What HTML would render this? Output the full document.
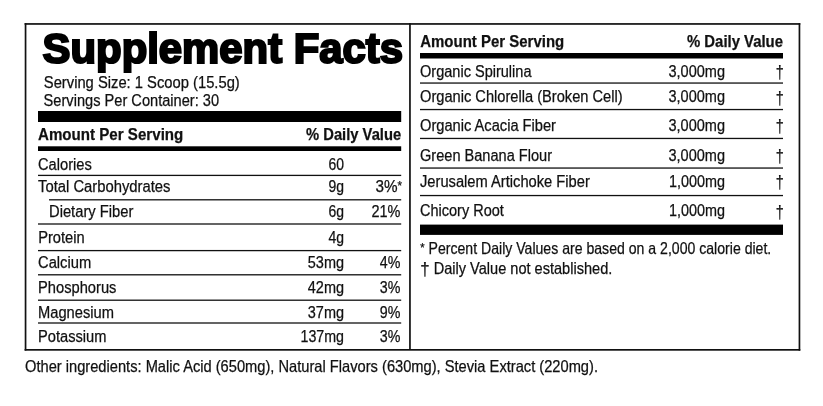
<!DOCTYPE html>
<html lang="en"><head><meta charset="utf-8"><title>Supplement Facts</title>
<style>html,body{margin:0;padding:0;background:#fff}svg{display:block}text{font-family:"Liberation Sans",Arial,Helvetica,sans-serif;fill:#111;stroke:#111;stroke-width:.25px}</style></head><body>
<svg width="823" height="406" viewBox="0 0 823 406">
<rect x="0" y="0" width="823" height="406" fill="#fff"/>
<rect x="24.6" y="23.1" width="775.7" height="1.7" fill="#111"/>
<rect x="24.6" y="349" width="775.7" height="1.7" fill="#111"/>
<rect x="24.7" y="23.1" width="1.7" height="327.5" fill="#111"/>
<rect x="798.6" y="23.1" width="1.7" height="327.6" fill="#111"/>
<rect x="409.1" y="23.1" width="1.7" height="326.5" fill="#111"/>
<rect x="38" y="111" width="363.2" height="11" fill="#000"/>
<rect x="38" y="146.3" width="363.2" height="4.7" fill="#000"/>
<rect x="38" y="174.75" width="363.2" height="1.3" fill="#111"/>
<rect x="49" y="199.15" width="352.2" height="1.3" fill="#111"/>
<rect x="38" y="223.35" width="363.2" height="1.3" fill="#111"/>
<rect x="38" y="249.95" width="363.2" height="1.3" fill="#111"/>
<rect x="38" y="274.15000000000003" width="363.2" height="1.3" fill="#111"/>
<rect x="38" y="299.55" width="363.2" height="1.3" fill="#111"/>
<rect x="38" y="322.35" width="363.2" height="1.3" fill="#111"/>
<rect x="420" y="53" width="363" height="5.5" fill="#000"/>
<rect x="420" y="82.4" width="363" height="1.3" fill="#111"/>
<rect x="420" y="108.9" width="363" height="1.3" fill="#111"/>
<rect x="420" y="137.8" width="363" height="1.3" fill="#111"/>
<rect x="420" y="167.4" width="363" height="1.3" fill="#111"/>
<rect x="420" y="194.9" width="363" height="1.3" fill="#111"/>
<rect x="420" y="224.6" width="363" height="10.3" fill="#000"/>
<text x="42.6" textLength="360.5" lengthAdjust="spacingAndGlyphs" font-weight="bold" style="stroke:#000;stroke-width:2.2px;stroke-linejoin:miter;fill:#000" y="62.6" font-size="42">Supplement Facts</text>
<text x="43.8" textLength="196" lengthAdjust="spacingAndGlyphs" y="87.5" font-size="16.3">Serving Size: 1 Scoop (15.5g)</text>
<text x="43.6" textLength="175.5" lengthAdjust="spacingAndGlyphs" y="105.6" font-size="16.3">Servings Per Container: 30</text>
<text x="38" textLength="145.3" lengthAdjust="spacingAndGlyphs" font-weight="bold" y="140" font-size="17">Amount Per Serving</text>
<text x="401.2" text-anchor="end" textLength="95.2" lengthAdjust="spacingAndGlyphs" font-weight="bold" y="140" font-size="17">% Daily Value</text>
<text x="38" textLength="53.8" lengthAdjust="spacingAndGlyphs" y="169.6" font-size="16">Calories</text>
<text x="344" text-anchor="end" textLength="15.5" lengthAdjust="spacingAndGlyphs" y="169.6" font-size="16">60</text>
<text x="38" textLength="132.5" lengthAdjust="spacingAndGlyphs" y="191.9" font-size="16">Total Carbohydrates</text>
<text x="344" text-anchor="end" textLength="15.5" lengthAdjust="spacingAndGlyphs" y="191.9" font-size="16">9g</text>
<text x="402" text-anchor="end" textLength="26.5" lengthAdjust="spacingAndGlyphs" y="191.9" font-size="16">3%<tspan font-size="12" dy="-1.5">*</tspan></text>
<text x="49" textLength="84.3" lengthAdjust="spacingAndGlyphs" y="217" font-size="16">Dietary Fiber</text>
<text x="344" text-anchor="end" textLength="15.5" lengthAdjust="spacingAndGlyphs" y="217" font-size="16">6g</text>
<text x="400.4" text-anchor="end" textLength="29" lengthAdjust="spacingAndGlyphs" y="217" font-size="16">21%</text>
<text x="38.2" textLength="46.5" lengthAdjust="spacingAndGlyphs" y="242.9" font-size="16">Protein</text>
<text x="344" text-anchor="end" textLength="15.5" lengthAdjust="spacingAndGlyphs" y="242.9" font-size="16">4g</text>
<text x="38" textLength="53.2" lengthAdjust="spacingAndGlyphs" y="267.8" font-size="16">Calcium</text>
<text x="344" text-anchor="end" textLength="36.2" lengthAdjust="spacingAndGlyphs" y="267.8" font-size="16">53mg</text>
<text x="400.4" text-anchor="end" textLength="20.6" lengthAdjust="spacingAndGlyphs" y="267.8" font-size="16">4%</text>
<text x="38" textLength="78.4" lengthAdjust="spacingAndGlyphs" y="292.9" font-size="16">Phosphorus</text>
<text x="344" text-anchor="end" textLength="36.2" lengthAdjust="spacingAndGlyphs" y="292.9" font-size="16">42mg</text>
<text x="400.4" text-anchor="end" textLength="20.6" lengthAdjust="spacingAndGlyphs" y="292.9" font-size="16">3%</text>
<text x="38" textLength="75.9" lengthAdjust="spacingAndGlyphs" y="317.5" font-size="16">Magnesium</text>
<text x="344" text-anchor="end" textLength="36.2" lengthAdjust="spacingAndGlyphs" y="317.5" font-size="16">37mg</text>
<text x="400.4" text-anchor="end" textLength="20.6" lengthAdjust="spacingAndGlyphs" y="317.5" font-size="16">9%</text>
<text x="38" textLength="68.4" lengthAdjust="spacingAndGlyphs" y="341.7" font-size="16">Potassium</text>
<text x="344" text-anchor="end" textLength="43.5" lengthAdjust="spacingAndGlyphs" y="341.7" font-size="16">137mg</text>
<text x="400.4" text-anchor="end" textLength="20.6" lengthAdjust="spacingAndGlyphs" y="341.7" font-size="16">3%</text>
<text x="25" textLength="573" lengthAdjust="spacingAndGlyphs" y="372.2" font-size="16.5">Other ingredients: Malic Acid (650mg), Natural Flavors (630mg), Stevia Extract (220mg).</text>
<text x="420.2" textLength="144" lengthAdjust="spacingAndGlyphs" font-weight="bold" y="47.4" font-size="17">Amount Per Serving</text>
<text x="783" text-anchor="end" textLength="96" lengthAdjust="spacingAndGlyphs" font-weight="bold" y="47.4" font-size="17">% Daily Value</text>
<text x="420" textLength="111.5" lengthAdjust="spacingAndGlyphs" y="76.5" font-size="16">Organic Spirulina</text>
<text x="725" text-anchor="end" textLength="56.5" lengthAdjust="spacingAndGlyphs" y="76.5" font-size="16">3,000mg</text>
<text x="783.8" text-anchor="end" textLength="8" lengthAdjust="spacingAndGlyphs" y="77.7" font-size="18.5">†</text>
<text x="420" textLength="202.6" lengthAdjust="spacingAndGlyphs" y="102.3" font-size="16">Organic Chlorella (Broken Cell)</text>
<text x="725" text-anchor="end" textLength="56.5" lengthAdjust="spacingAndGlyphs" y="102.3" font-size="16">3,000mg</text>
<text x="783.8" text-anchor="end" textLength="8" lengthAdjust="spacingAndGlyphs" y="103.5" font-size="18.5">†</text>
<text x="420" textLength="136" lengthAdjust="spacingAndGlyphs" y="130.9" font-size="16">Organic Acacia Fiber</text>
<text x="725" text-anchor="end" textLength="56.5" lengthAdjust="spacingAndGlyphs" y="130.9" font-size="16">3,000mg</text>
<text x="783.8" text-anchor="end" textLength="8" lengthAdjust="spacingAndGlyphs" y="132.1" font-size="18.5">†</text>
<text x="420" textLength="132" lengthAdjust="spacingAndGlyphs" y="160.7" font-size="16">Green Banana Flour</text>
<text x="725" text-anchor="end" textLength="56.5" lengthAdjust="spacingAndGlyphs" y="160.7" font-size="16">3,000mg</text>
<text x="783.8" text-anchor="end" textLength="8" lengthAdjust="spacingAndGlyphs" y="161.89999999999998" font-size="18.5">†</text>
<text x="420" textLength="169.8" lengthAdjust="spacingAndGlyphs" y="187.2" font-size="16">Jerusalem Artichoke Fiber</text>
<text x="725" text-anchor="end" textLength="56" lengthAdjust="spacingAndGlyphs" y="187.2" font-size="16">1,000mg</text>
<text x="783.8" text-anchor="end" textLength="8" lengthAdjust="spacingAndGlyphs" y="188.39999999999998" font-size="18.5">†</text>
<text x="420" textLength="83.8" lengthAdjust="spacingAndGlyphs" y="216.3" font-size="16">Chicory Root</text>
<text x="725" text-anchor="end" textLength="56" lengthAdjust="spacingAndGlyphs" y="216.3" font-size="16">1,000mg</text>
<text x="783.8" text-anchor="end" textLength="8" lengthAdjust="spacingAndGlyphs" y="217.5" font-size="18.5">†</text>
<text x="420.3" textLength="351" lengthAdjust="spacingAndGlyphs" y="253.5" font-size="16.5"><tspan font-size="13" dy="-1.5">*</tspan><tspan dy="1.5"> </tspan>Percent Daily Values are based on a 2,000 calorie diet.</text>
<text x="420.3" textLength="192" lengthAdjust="spacingAndGlyphs" y="273.6" font-size="16.5"><tspan font-size="19" dy="1.3">†</tspan><tspan dy="-1.3"> </tspan>Daily Value not established.</text>
</svg></body></html>
